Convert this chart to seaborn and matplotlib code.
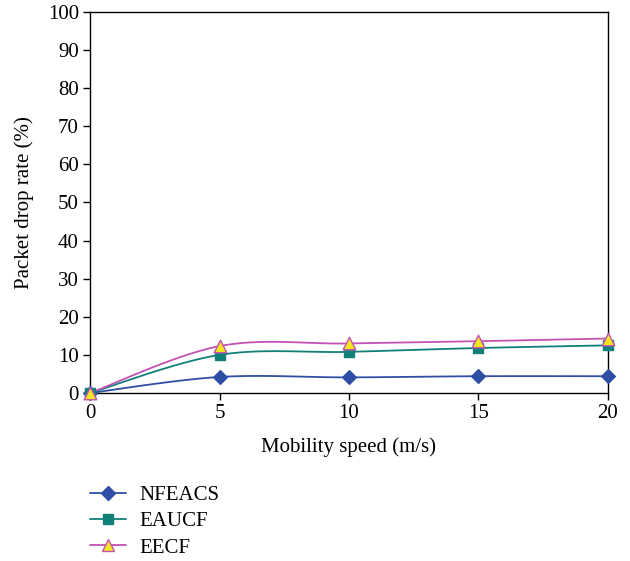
import numpy as np
import pandas as pd
import matplotlib
matplotlib.use("Agg")
import matplotlib.pyplot as plt
import seaborn as sns
from matplotlib.lines import Line2D

speeds = [0, 5, 10, 15, 20]
nfeacs = [0.0, 4.2, 4.1, 4.4, 4.4]
eaucf = [0.0, 10.0, 10.8, 11.8, 12.5]
eecf = [0.0, 12.3, 13.0, 13.6, 14.3]
series_names = ["NFEACS", "EAUCF", "EECF"]
x_ticks = [0, 5, 10, 15, 20]
y_ticks = [0, 10, 20, 30, 40, 50, 60, 70, 80, 90, 100]

sns.set_theme(style="white")
plt.rcParams['font.family'] = ['Liberation Serif', 'DejaVu Serif']
plt.rcParams['text.color'] = 'black'
plt.rcParams['axes.labelcolor'] = 'black'

df = pd.DataFrame({
    "speed": speeds * 3,
    "rate": nfeacs + eaucf + eecf,
    "series": sum([[n] * len(speeds) for n in series_names], []),
})

styles = {
    "NFEACS": dict(color="#2F4FA6", marker="D", mfc="#2F4FA6", mec="#2F4FA6", ms=7),
    "EAUCF": dict(color="#128079", marker="s", mfc="#128079", mec="#128079", ms=7),
    "EECF": dict(color="#C452B4", marker="^", mfc="#F2E61C", mec="#C452B4", ms=9),
}


def smooth(x, y, n=30):
    # Catmull-Rom style smoothing (like spreadsheet smoothed lines) for display
    x = np.asarray(x, float); y = np.asarray(y, float)
    px = np.concatenate([[x[0]], x, [x[-1]]])
    py = np.concatenate([[y[0]], y, [y[-1]]])
    xs, ys = [], []
    for i in range(1, len(px) - 2):
        p0, p1, p2, p3 = [np.array([px[j], py[j]]) for j in (i - 1, i, i + 1, i + 2)]
        c1 = p1 + (p2 - p0) / 6
        c2 = p2 - (p3 - p1) / 6
        t = np.linspace(0, 1, n)[:, None]
        b = (1 - t) ** 3 * p1 + 3 * (1 - t) ** 2 * t * c1 + 3 * (1 - t) * t ** 2 * c2 + t ** 3 * p2
        xs.append(b[:, 0]); ys.append(b[:, 1])
    return np.concatenate(xs), np.concatenate(ys)


fig = plt.figure(figsize=(6.3, 5.61), dpi=100)
ax = fig.add_axes([0.1429, 0.2995, 0.8221, 0.6791])

handles = []
for name in series_names:
    sub = df[df.series == name]
    st = styles[name]
    sx, sy = smooth(sub.speed, sub.rate)
    ax.plot(sx, sy, color=st["color"], lw=1.3, zorder=2, clip_on=False)
    sns.scatterplot(x=sub.speed, y=sub.rate, ax=ax, marker=st["marker"],
                    color=st["mfc"], edgecolor=st["mec"], linewidth=1.0,
                    s=st["ms"] ** 2, zorder=3, legend=False)
    handles.append(Line2D([0], [0], color=st["color"], lw=1.3, marker=st["marker"],
                          markerfacecolor=st["mfc"], markeredgecolor=st["mec"],
                          markersize=st["ms"] * 0.95, label=name))
for coll in ax.collections:
    coll.set_clip_on(False)

ax.set_xlim(0, 20)
ax.set_ylim(0, 100)
ax.set_xticks(x_ticks)
ax.set_yticks(y_ticks)
ax.set_xlabel("Mobility speed (m/s)", fontsize=15, labelpad=10)
ax.set_ylabel("Packet drop rate (%)", fontsize=15, labelpad=10)
ax.tick_params(axis="both", which="major", direction="out", length=5, width=1,
               labelsize=15, color="black", labelcolor="black",
               bottom=True, left=True, top=False, right=False, pad=3)
for sp in ax.spines.values():
    sp.set_color("black")
    sp.set_linewidth(1.0)

leg = fig.legend(handles=handles, loc="upper left", bbox_to_anchor=(0.143, 0.135),
                 bbox_transform=fig.transFigure, frameon=False, fontsize=15,
                 handlelength=1.7, handletextpad=0.65, labelspacing=0.33,
                 borderaxespad=0, borderpad=0)

fig.savefig("out.png", dpi=100)
